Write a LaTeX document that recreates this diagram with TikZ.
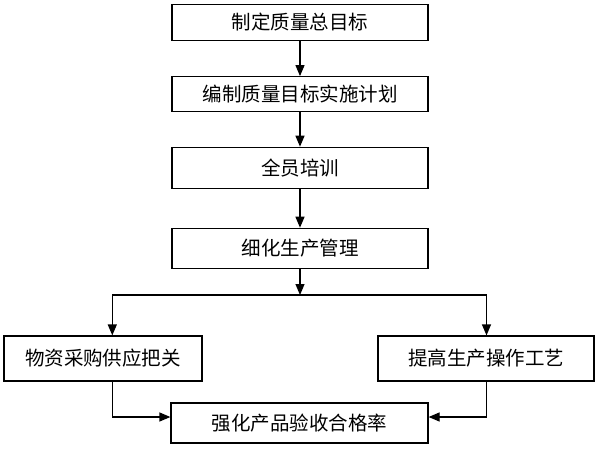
\documentclass[tikz,border=0pt]{standalone}
\usepackage{fontspec}
\setmainfont{Noto Sans CJK SC}
\usetikzlibrary{arrows.meta}
\begin{document}
\begin{tikzpicture}[x=1pt,y=-1pt,
  box/.style={draw, line width=1.2pt, inner sep=0pt, align=center, font=\fontsize{19.5}{21}\selectfont},
  arr/.style={line width=1.2pt, -{Triangle[width=9pt,length=11pt]}},
  ln/.style={line width=1.2pt}]
\fill[white] (0,0) rectangle (600,450);
\useasboundingbox (0,0) rectangle (600,450);
\node[box, minimum width=256pt, minimum height=36pt] (b1) at (300,22.2) {制定质量总目标};
\node[box, minimum width=256pt, minimum height=35pt] (b2) at (300,94.2) {编制质量目标实施计划};
\node[box, minimum width=256pt, minimum height=41pt] (b3) at (300,167.8) {全员培训};
\node[box, minimum width=256pt, minimum height=40pt] (b4) at (300,248.3) {细化生产管理};
\node[box, minimum width=198pt, minimum height=45pt] (b5) at (103,358.5) {物资采购供应把关};
\node[box, minimum width=216pt, minimum height=45pt] (b6) at (486,358.5) {提高生产操作工艺};
\node[box, minimum width=257pt, minimum height=40pt] (b7) at (299.5,423) {强化产品验收合格率};
\coordinate (j) at (300,295);
\coordinate (jl) at (112.3,295);
\coordinate (jr) at (486.5,295);
\coordinate (ml) at (112.3,417);
\coordinate (mr) at (486.5,417);
\draw[arr] (b1.south) -- (b2.north);
\draw[arr] (b2.south) -- (b3.north);
\draw[arr] (b3.south) -- (b4.north);
\draw[arr] (b4.south) -- (j);
\draw[ln] (jl) -- (jr);
\draw[arr] (jl) -- (jl |- b5.north);
\draw[arr] (jr) -- (jr |- b6.north);
\draw[arr] (ml |- b5.south) -- (ml) -- (b7.west |- ml);
\draw[arr] (mr |- b6.south) -- (mr) -- (b7.east |- mr);
\end{tikzpicture}
\end{document}
